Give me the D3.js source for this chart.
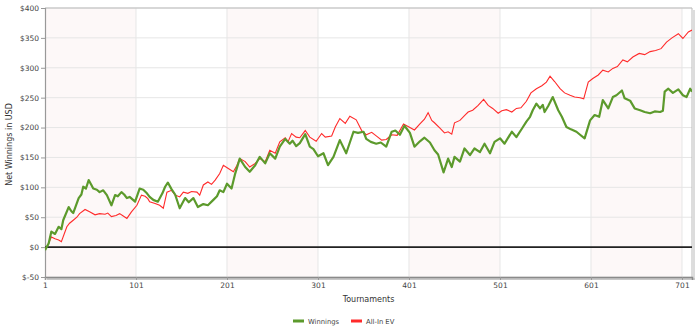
<!DOCTYPE html>
<html><head><meta charset="utf-8">
<script src="https://cdn.jsdelivr.net/npm/d3@7/dist/d3.min.js"></script>
<style>html,body{margin:0;padding:0;background:#fff;}svg{display:block;}</style>
</head><body><svg id="c" width="700" height="333"></svg>
<script>
// ---- data ----
const xTicks = [1, 101, 201, 301, 401, 501, 601, 701];
const yTicks = [-50, 0, 50, 100, 150, 200, 250, 300, 350, 400];
const bandStarts = [1, 201, 401, 601];
const seriesNames = ["Winnings", "All-In EV"];

const winT = [1,5,8,12,16,19,21,27,30,32,38,41,43,46,49,52,54,58,61,65,69,74,78,81,85,88,91,94,100,105,109,113,116,120,125,130,133,136,140,144,149,155,159,164,169,175,180,186,190,193,197,201,206,210,215,221,226,232,237,243,248,254,259,265,270,273,277,281,287,292,296,301,307,312,318,325,332,340,345,351,354,359,365,370,376,382,386,391,396,402,407,413,418,424,429,433,439,444,448,451,457,462,468,473,479,484,490,495,501,506,514,519,525,530,534,537,541,545,548,550,554,559,565,569,574,579,585,589,594,600,605,610,614,620,625,629,635,638,644,649,655,660,666,671,677,680,682,686,691,697,702,706,710,712];
const winV = [-5,6,26,22,34,30,45,67,60,57,82,88,101,98,112,104,98,96,92,95,87,70,87,85,92,88,82,84,76,98,96,90,84,79,76,90,101,108,97,88,65,82,75,82,67,72,70,79,85,95,92,106,98,123,148,134,126,137,151,140,157,148,168,181,173,178,169,174,189,168,164,152,157,137,151,179,157,193,191,193,181,176,173,175,168,193,195,188,203,191,168,177,183,175,162,155,125,148,134,151,143,165,154,165,159,173,157,176,182,173,193,184,198,210,218,229,240,232,238,226,236,251,229,218,201,197,193,188,182,212,221,218,246,232,251,254,262,249,245,232,229,226,224,227,226,228,260,265,258,264,254,251,265,260];

const evT = [1,4,8,12,16,19,25,28,32,36,39,45,50,56,61,67,70,74,79,83,87,91,96,102,107,111,114,116,122,127,131,135,140,144,149,153,158,162,168,171,175,180,184,188,193,197,202,208,212,215,221,226,232,237,243,248,254,259,265,268,272,277,281,287,292,299,305,309,316,320,325,331,336,343,349,354,360,365,371,376,382,388,395,401,407,413,418,422,426,429,435,440,444,448,451,457,462,466,471,477,483,488,493,499,503,508,514,519,524,530,535,541,547,552,556,561,567,572,578,583,589,593,598,603,609,614,620,625,630,636,641,647,654,660,666,672,678,684,690,697,702,708,712];
const evV = [-3,3,17,14,12,9,34,40,45,50,56,63,59,54,56,55,57,51,53,56,52,48,59,70,87,85,81,76,73,70,65,92,95,87,84,92,90,93,92,87,104,109,105,112,123,137,132,126,137,148,143,134,140,148,143,162,157,176,183,176,190,184,183,195,184,177,190,184,186,201,215,207,219,213,195,188,192,186,179,180,188,187,206,201,196,206,214,225,212,208,199,191,193,189,208,212,220,226,229,237,247,237,232,224,228,230,226,232,233,244,258,265,270,276,286,277,265,258,254,251,250,248,276,282,288,296,293,299,302,313,310,318,324,322,327,329,332,343,350,357,349,360,363];

// ---- chart ----
const svg = d3.select("#c");
const L = 45, R = 692, T = 8, B = 277;
const x = d3.scaleLinear().domain([1, 712]).range([L, R]);
const y = d3.scaleLinear().domain([-50, 400]).range([B, T]);
const font = "'DejaVu Sans', Verdana, sans-serif";

// alternating bands
svg.append("g").selectAll("rect").data(bandStarts).join("rect")
  .attr("x", d => x(d)).attr("y", T)
  .attr("width", d => x(d + 100) - x(d)).attr("height", B - T)
  .attr("fill", "#fdf8f8");

// grid
svg.append("g").selectAll("line").data(yTicks).join("line")
  .attr("x1", L).attr("x2", R).attr("y1", d => y(d)).attr("y2", d => y(d))
  .attr("stroke", "#e6e6e6").attr("stroke-width", 1);
svg.append("g").selectAll("line").data(xTicks.slice(1)).join("line")
  .attr("x1", d => x(d)).attr("x2", d => x(d)).attr("y1", T).attr("y2", B)
  .attr("stroke", "#e6e6e6").attr("stroke-width", 1);

// frame shadow + frame
svg.append("line").attr("x1", R + 2).attr("x2", R + 2).attr("y1", T + 2).attr("y2", B + 2)
  .attr("stroke", "#dcdcdc").attr("stroke-width", 2);
svg.append("line").attr("x1", L + 2).attr("x2", R + 3).attr("y1", B + 2).attr("y2", B + 2)
  .attr("stroke", "#c8c8c8").attr("stroke-width", 2);
svg.append("line").attr("x1", L).attr("x2", R).attr("y1", T).attr("y2", T)
  .attr("stroke", "#bbbbbb").attr("stroke-width", 1);
svg.append("line").attr("x1", R).attr("x2", R).attr("y1", T).attr("y2", B)
  .attr("stroke", "#bbbbbb").attr("stroke-width", 1);

// axes
const yAxis = svg.append("g").attr("transform", `translate(${L},0)`)
  .call(d3.axisLeft(y).tickValues(yTicks).tickSize(4).tickPadding(2).tickFormat(d => "$" + d));
const xAxis = svg.append("g").attr("transform", `translate(0,${B})`)
  .call(d3.axisBottom(x).tickValues(xTicks).tickSize(3).tickPadding(3).tickFormat(d => d));
[yAxis, xAxis].forEach(a => {
  a.select(".domain").attr("stroke", "#999").attr("stroke-width", 1.2);
  a.selectAll(".tick line").attr("stroke", "#999");
  a.selectAll("text").attr("font-family", font).attr("font-size", "7.5px").attr("fill", "#444");
});
xAxis.select(".domain").attr("stroke", "#8a8a8a").attr("stroke-width", 1.5);

// zero line
svg.append("line").attr("x1", L).attr("x2", R).attr("y1", y(0)).attr("y2", y(0))
  .attr("stroke", "#222").attr("stroke-width", 1.6);

// series
const line = d3.line().x(d => x(d[0])).y(d => y(d[1]));
const evData = evT.map((t, i) => [t, evV[i]]);
const winData = winT.map((t, i) => [t, winV[i]]);
svg.append("clipPath").attr("id", "clip").append("rect")
  .attr("x", L).attr("y", T).attr("width", R - L).attr("height", B - T);
svg.append("path").datum(evData).attr("d", line).attr("fill", "none")
  .attr("stroke", "#ff2a2a").attr("stroke-width", 1.1).attr("clip-path", "url(#clip)");
svg.append("path").datum(winData).attr("d", line).attr("fill", "none")
  .attr("stroke", "#5c9a2c").attr("stroke-width", 2.2).attr("stroke-linejoin", "round")
  .attr("clip-path", "url(#clip)");

// titles
svg.append("text").attr("x", (L + R) / 2).attr("y", 302).attr("text-anchor", "middle")
  .attr("font-family", font).attr("font-size", "8px").attr("fill", "#333").text("Tournaments");
svg.append("text").attr("transform", `translate(12,${(T + B) / 2 + 2}) rotate(-90)`)
  .attr("text-anchor", "middle").attr("font-family", font).attr("font-size", "8px")
  .attr("fill", "#333").text("Net Winnings in USD");

// legend
const legColors = ["#5c9a2c", "#ff2a2a"];
const legX = [293, 351];
const leg = svg.append("g").selectAll("g").data(seriesNames).join("g")
  .attr("transform", (d, i) => `translate(${legX[i]},321)`);
leg.append("rect").attr("x", 0).attr("y", -1.5).attr("width", 11).attr("height", 3)
  .attr("fill", (d, i) => legColors[i]);
leg.append("text").attr("x", 15).attr("y", 2.5).attr("font-family", font)
  .attr("font-size", "6.8px").attr("fill", "#444").text(d => d);
</script></body></html>
